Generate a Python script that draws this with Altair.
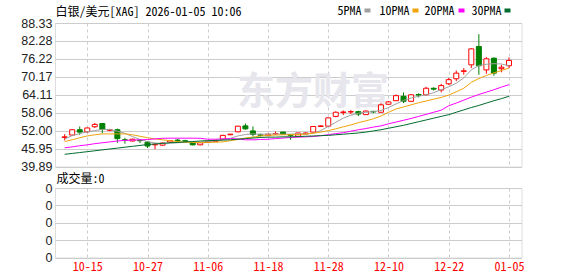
import altair as alt
import pandas as pd

# ---------------- data ----------------
opens = [49.7, 50.5, 52.3, 51.6, 53.3, 54.4, 52.1, 52.3, 48.9, 48.5,
         48.8, 48.1, 47.2, 47.1, 48.1, 48.8, 48.6, 47.9, 47.2, 48.0,
         48.3, 49.1, 50.6, 51.6, 53.6, 51.9, 50.6, 50.3, 50.9, 51.5,
         50.6, 50.1, 50.9, 51.5, 53.4, 53.5, 56.8, 58.1, 58.3, 58.4,
         57.4, 58.5, 58.2, 60.9, 62.1, 63.6, 61.9, 64.2, 64.1, 66.3,
         65.7, 67.8, 69.5, 72.0, 74.2, 80.4, 72.5, 76.45, 72.9, 73.9]
highs = [50.8, 52.4, 53.4, 53.0, 54.6, 54.5, 52.6, 52.7, 49.6, 49.3,
         49.2, 48.5, 47.6, 48.0, 48.8, 49.3, 48.9, 48.0, 48.0, 48.6,
         48.9, 50.6, 50.9, 53.6, 54.4, 53.4, 51.0, 50.9, 51.7, 51.6,
         50.8, 51.3, 51.4, 53.5, 53.8, 56.4, 58.5, 58.8, 58.9, 58.7,
         58.8, 58.7, 61.2, 62.0, 64.2, 64.9, 64.3, 64.6, 66.8, 66.6,
         67.8, 69.8, 72.3, 73.1, 79.8, 84.55, 76.8, 76.7, 74.2, 76.7]
lows = [48.7, 50.2, 50.6, 51.3, 52.9, 51.1, 51.8, 47.9, 47.6, 48.4,
        47.8, 46.1, 45.7, 46.9, 47.9, 48.0, 47.9, 47.0, 47.1, 47.9,
        48.2, 49.0, 50.5, 51.4, 52.3, 50.0, 50.0, 50.2, 50.7, 50.6,
        48.9, 50.0, 50.8, 51.4, 53.2, 53.4, 56.5, 57.3, 57.6, 56.9,
        57.3, 57.9, 58.1, 60.7, 62.0, 61.3, 61.8, 63.2, 63.9, 65.5,
        64.9, 67.4, 68.7, 70.9, 73.1, 70.85, 71.2, 70.5, 71.7, 73.1]
closes = [49.9, 52.3, 51.5, 52.9, 54.1, 52.4, 52.3, 49.3, 48.8, 49.1,
          48.6, 46.8, 47.4, 47.8, 48.6, 48.6, 48.4, 47.2, 47.9, 48.4,
          48.7, 50.4, 50.8, 53.5, 52.6, 50.7, 50.4, 50.8, 51.0, 50.8,
          50.4, 51.2, 51.2, 53.4, 53.6, 56.3, 58.2, 58.3, 58.4, 57.6,
          58.6, 58.3, 60.7, 61.7, 63.8, 61.9, 64.1, 64.0, 66.3, 66.0,
          67.2, 69.2, 71.4, 72.2, 79.6, 73.9, 76.25, 71.4, 73.4, 75.7]
ma5 = [49.2, 50.3, 51.0, 51.6, 52.0, 52.4, 52.4, 51.8, 51.1, 50.0,
       49.0, 48.3, 47.8, 47.7, 47.8, 47.9, 48.1, 48.1, 48.1, 48.3,
       48.5, 48.9, 49.4, 50.2, 50.7, 50.9, 50.8, 50.8, 50.9, 50.8,
       50.8, 50.9, 50.9, 51.1, 52.0, 53.4, 54.8, 56.2, 57.2, 57.9,
       58.2, 58.4, 58.8, 59.8, 61.0, 62.2, 63.0, 63.6, 64.1, 64.8,
       65.8, 66.8, 68.0, 69.8, 72.5, 74.0, 74.4, 74.6, 74.5, 73.9]
ma10 = [48.3, 48.9, 49.6, 50.2, 50.6, 50.9, 50.9, 50.9, 50.9, 50.6,
        50.1, 49.6, 49.2, 48.9, 48.6, 48.3, 48.1, 48.0, 48.0, 48.0,
        48.1, 48.2, 48.6, 49.0, 49.5, 49.8, 50.2, 50.4, 50.5, 50.6,
        50.6, 50.7, 50.8, 51.1, 51.5, 52.0, 52.6, 53.3, 53.9, 54.7,
        55.3, 56.0, 56.9, 58.2, 59.3, 60.0, 60.7, 61.4, 62.0, 62.6,
        63.2, 64.0, 65.1, 66.3, 68.3, 69.6, 70.6, 71.5, 72.3, 73.1]
ma20 = [46.2, 46.5, 46.9, 47.2, 47.6, 47.9, 48.2, 48.5, 48.7, 48.8,
        48.9, 49.0, 49.2, 49.4, 49.45, 49.45, 49.45, 49.45, 49.4, 49.1,
        49.1, 49.2, 49.3, 49.2, 48.9, 48.9, 49.0, 49.1, 49.3, 49.5,
        49.7, 49.8, 49.9, 50.0, 50.3, 50.6, 51.0, 51.3, 51.8, 52.3,
        52.7, 53.2, 53.6, 54.3, 54.9, 55.5, 56.1, 56.8, 57.5, 58.2,
        58.9, 60.4, 61.3, 62.3, 63.3, 64.2, 65.0, 65.8, 66.7, 67.5]
ma30 = [44.0, 44.3, 44.6, 44.9, 45.2, 45.5, 45.8, 46.1, 46.4, 46.7,
        47.0, 47.3, 47.5, 47.7, 47.9, 48.0, 48.2, 48.3, 48.5, 48.6,
        48.7, 48.8, 48.9, 49.1, 49.3, 49.5, 49.7, 49.8, 49.8, 49.9,
        49.9, 50.0, 50.1, 50.2, 50.3, 50.4, 50.6, 50.8, 51.0, 51.2,
        51.5, 51.9, 52.3, 52.8, 53.3, 53.8, 54.4, 55.0, 55.6, 56.2,
        56.8, 57.4, 58.2, 59.0, 59.8, 60.5, 61.3, 62.1, 62.8, 63.6]
volume = [0, 0, 0, 0, 0, 0, 0, 0, 0, 0, 0, 0, 0, 0, 0, 0, 0, 0, 0, 0,
          0, 0, 0, 0, 0, 0, 0, 0, 0, 0, 0, 0, 0, 0, 0, 0, 0, 0, 0, 0,
          0, 0, 0, 0, 0, 0, 0, 0, 0, 0, 0, 0, 0, 0, 0, 0, 0, 0, 0, 0]

tick_index = [3, 11, 19, 27, 35, 43, 51, 59]
tick_labels = ["10-15", "10-27", "11-06", "11-18", "11-28", "12-10", "12-22", "01-05"]
y_ticks = [39.89, 45.95, 52.00, 58.06, 64.11, 70.17, 76.22, 82.28, 88.33]
vol_ticks = [0, 1, 2, 3, 4]
ma_keys = ["ma5", "ma10", "ma20", "ma30"]
ma_names = ["5PMA", "10PMA", "20PMA", "30PMA"]
ma_colors = ["#a0a0a0", "#f0a30a", "#ff00ff", "#006b2e"]
header_text = "白银/美元[XAG] 2026-01-05 10:06"
volume_title = "成交量:0"
watermark = "东方财富"

df = pd.DataFrame({
    "idx": list(range(len(opens))),
    "open": opens, "high": highs, "low": lows, "close": closes,
    "ma5": ma5, "ma10": ma10, "ma20": ma20, "ma30": ma30,
    "volume": volume,
})

# ---------------- styling ----------------
W = 466.5
H_MAIN = 143.5
H_VOL = 69.5
MONO = "Noto Sans Mono CJK SC, Noto Sans CJK SC"
RED = "#ff0000"
GREEN = "#008000"
GRID = "#cccccc"

xs = alt.Scale(domain=[-0.62, 60], nice=False, zero=False)
ys = alt.Scale(domain=[39.89, 88.33], nice=False, zero=False)
up = "datum.close >= datum.open"

label_expr = "[" + ",".join("'%s'" % t for t in tick_labels) + "][indexof([" + \
    ",".join(str(i) for i in tick_index) + "], datum.value)]"

x_axis_main = alt.Axis(
    values=tick_index, labels=False, ticks=False, domain=False, grid=True,
    gridColor=GRID, gridDash=[3, 3], gridWidth=1, title=None)
y_axis_main = alt.Axis(
    values=y_ticks, format=".2f", labelFont="Liberation Sans", labelFontSize=12.5,
    labelColor="#222222", ticks=False, domain=False, grid=True, gridColor=GRID,
    gridWidth=1, labelPadding=3, title=None)


def xm():
    return alt.X("idx:Q", scale=xs, axis=x_axis_main)


def ym(field):
    return alt.Y(field, scale=ys, axis=y_axis_main)


base = alt.Chart(df)

wm = alt.Chart(pd.DataFrame({"t": [watermark]})).mark_text(
    font="Noto Sans CJK SC", fontSize=38, fontWeight="bold", color="#e6e6ec",
    align="center", baseline="middle").encode(
    text="t:N", x=alt.value(258), y=alt.value(70))

wicks = base.mark_rule(strokeWidth=1).encode(
    x=xm(), y=ym("low:Q"), y2="high:Q",
    color=alt.condition(up, alt.value(RED), alt.value(GREEN)))

bodies = base.mark_bar(size=5, strokeWidth=1).encode(
    x=xm(), y=ym("open:Q"), y2="close:Q",
    fill=alt.condition(up, alt.value("#ffffff"), alt.value(GREEN)),
    stroke=alt.condition(up, alt.value(RED), alt.value(GREEN)))

lines = base.transform_fold(ma_keys, as_=["ma", "val"]).mark_line(strokeWidth=1).encode(
    x=xm(), y=ym("val:Q"),
    color=alt.Color("ma:N", scale=alt.Scale(domain=ma_keys, range=ma_colors), legend=None),
    detail="ma:N")

header = alt.Chart(pd.DataFrame({"t": [header_text]})).mark_text(
    font=MONO, fontSize=12, color="#000000", align="left", baseline="middle").encode(
    text="t:N", x=alt.value(0.5), y=alt.value(-11.5))

legend_layers = []
text_x = [282.5, 324.5, 369.5, 416.5]
swatch_x = [309.5, 357.5, 403.5, 449.5]
for name, color, tx, sx in zip(ma_names, ma_colors, text_x, swatch_x):
    legend_layers.append(
        alt.Chart(pd.DataFrame({"t": [name]})).mark_text(
            font=MONO, fontSize=12, color="#000000", align="left", baseline="middle").encode(
            text="t:N", x=alt.value(tx), y=alt.value(-12.5)))
    legend_layers.append(
        alt.Chart(pd.DataFrame({"t": [name]})).mark_rect(color=color).encode(
            x=alt.value(sx), x2=alt.value(sx + 6), y=alt.value(-14.5), y2=alt.value(-10.5)))

main = alt.layer(wm, wicks, bodies, lines, header, *legend_layers).properties(
    width=W, height=H_MAIN)

# ---------------- volume panel ----------------
vx = alt.X("idx:Q", scale=xs, axis=alt.Axis(
    values=tick_index, labelExpr=label_expr, labelColor=RED, labelFont=MONO,
    labelFontSize=12, ticks=False, domain=False, grid=True, gridColor=GRID,
    gridDash=[3, 3], gridWidth=1, labelPadding=4, labelFlush=False, title=None))
vy = alt.Y("volume:Q", scale=alt.Scale(domain=[0, 4], nice=False, zero=True), axis=alt.Axis(
    values=vol_ticks, labelExpr="'0'", labelFont="Liberation Sans", labelFontSize=12.5,
    labelColor="#222222", ticks=False, domain=False, grid=True, gridColor=GRID,
    gridWidth=1, labelPadding=3, title=None))

vol_bars = base.mark_bar(size=5, color=RED).encode(x=vx, y=vy)
vol_title = alt.Chart(pd.DataFrame({"t": [volume_title]})).mark_text(
    font=MONO, fontSize=12, color="#000000", align="left", baseline="middle").encode(
    text="t:N", x=alt.value(1.5), y=alt.value(-8.7))

vol = alt.layer(vol_bars, vol_title).properties(width=W, height=H_VOL)

chart = alt.vconcat(main, vol, spacing=21, bounds="flush").properties(
    padding={"left": 20, "top": 4, "right": 0, "bottom": 0}
).configure_view(stroke="#999999", strokeWidth=1.5).configure(background="#ffffff")

chart.save("out.html", embed_options={"renderer": "svg", "actions": False})
